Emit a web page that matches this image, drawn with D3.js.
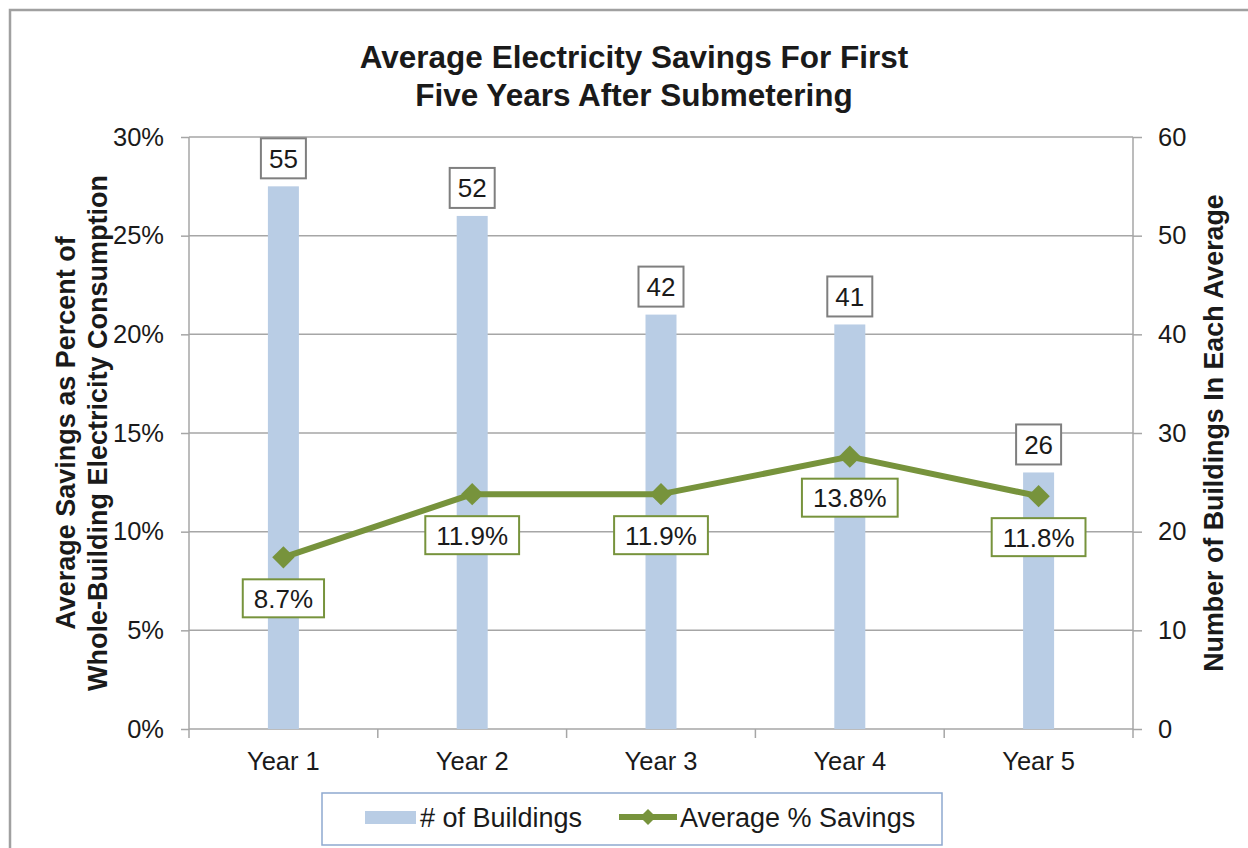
<!DOCTYPE html>
<html>
<head>
<meta charset="utf-8">
<script src="https://cdnjs.cloudflare.com/ajax/libs/d3/7.8.5/d3.min.js"></script>
<style>
  body { margin: 0; background: #fff; }
  text { font-family: "Liberation Sans", Arial, sans-serif; fill: #1a1a1a; }
</style>
</head>
<body>
<div id="chart"></div>
<script>
// chart values
let years = ['Year 1', 'Year 2', 'Year 3', 'Year 4', 'Year 5'];
let buildings = [55, 52, 42, 41, 26];
let savings = [8.7, 11.9, 11.9, 13.8, 11.8];
let leftTicks = [0, 5, 10, 15, 20, 25, 30];
let rightTicks = [0, 10, 20, 30, 40, 50, 60];

let svgWidth = 1248;
let svgHeight = 848;
let margin = { top: 137, right: 115, bottom: 119, left: 189 };
let width = svgWidth - margin.left - margin.right;
let height = svgHeight - margin.top - margin.bottom;

let barColor = '#b9cde5';
let lineColor = '#77933c';
let gridColor = '#a6a6a6';

let svg = d3.select('#chart')
    .append('svg')
    .attr('width', svgWidth)
    .attr('height', svgHeight);

// outer frame (runs off the right and bottom edge)
svg.append('rect')
    .attr('x', 10).attr('y', 10)
    .attr('width', svgWidth + 20).attr('height', svgHeight + 20)
    .attr('fill', 'none')
    .attr('stroke', '#a0a0a0')
    .attr('stroke-width', 2.5);

let chartgroup = svg.append('g')
    .attr('transform', `translate(${margin.left},${margin.top})`);

let x = d3.scaleBand().domain(years).range([0, width]);
let yLeft = d3.scaleLinear().domain([0, 30]).range([height, 0]);
let yRight = d3.scaleLinear().domain([0, 60]).range([height, 0]);

// gridlines
chartgroup.append('g')
    .selectAll('line')
    .data(leftTicks.slice(1))
    .enter()
    .append('line')
    .attr('x1', 0).attr('x2', width)
    .attr('y1', d => yLeft(d)).attr('y2', d => yLeft(d))
    .attr('stroke', gridColor)
    .attr('stroke-width', 1.5);

// left axis
let LAxis = d3.axisLeft(yLeft).tickValues(leftTicks).tickFormat(d => d + '%').tickSize(8).tickPadding(17);
let leftG = chartgroup.append('g').call(LAxis);

// right axis
let RAxis = d3.axisRight(yRight).tickValues(rightTicks).tickSize(9).tickPadding(16);
let rightG = chartgroup.append('g')
    .attr('transform', `translate(${width},0)`)
    .call(RAxis);

// bottom axis, ticks sit on the category boundaries
let BAxis = d3.axisBottom(x).tickSize(0).tickPadding(23);
let bottomG = chartgroup.append('g')
    .attr('transform', `translate(0,${height})`)
    .call(BAxis);
bottomG.selectAll('.bound')
    .data(d3.range(years.length + 1))
    .enter()
    .append('line')
    .attr('x1', i => i * x.step()).attr('x2', i => i * x.step())
    .attr('y1', 0).attr('y2', 9)
    .attr('stroke', gridColor)
    .attr('stroke-width', 1.5);

[leftG, rightG, bottomG].forEach(g => {
    g.select('.domain').attr('stroke', gridColor).attr('stroke-width', 1.5);
    g.selectAll('.tick line').attr('stroke', gridColor).attr('stroke-width', 1.5);
    g.selectAll('.tick text')
        .style('font-size', '25.5px')
        .style('font-family', '"Liberation Sans", Arial, sans-serif')
        .attr('fill', '#1a1a1a');
});
bottomG.select('.domain').attr('d', `M0,0H${width}`);
leftG.select('.domain').attr('d', `M0,0V${height}`);
rightG.select('.domain').attr('d', `M0,0V${height}`);

// bars
let barW = 31;
chartgroup.selectAll('.bar')
    .data(buildings)
    .enter()
    .append('rect')
    .attr('class', 'bar')
    .attr('x', (d, i) => x(years[i]) + x.bandwidth() / 2 - barW / 2)
    .attr('y', d => yRight(d))
    .attr('width', barW)
    .attr('height', d => height - yRight(d))
    .attr('fill', barColor);

// count labels in boxes above bars
let countLabels = chartgroup.selectAll('.cnt')
    .data(buildings)
    .enter()
    .append('g')
    .attr('transform', (d, i) => `translate(${x(years[i]) + x.bandwidth() / 2},${yRight(d) - 28})`);
countLabels.append('rect')
    .attr('x', -22.5).attr('y', -20)
    .attr('width', 45).attr('height', 40)
    .attr('fill', '#fff')
    .attr('stroke', '#7f7f7f')
    .attr('stroke-width', 2);
countLabels.append('text')
    .attr('text-anchor', 'middle')
    .attr('dy', '0.36em')
    .style('font-size', '26px')
    .text(d => d);

// savings line
let line = d3.line()
    .x((d, i) => x(years[i]) + x.bandwidth() / 2)
    .y(d => yLeft(d));
chartgroup.append('path')
    .datum(savings)
    .attr('d', line)
    .attr('fill', 'none')
    .attr('stroke', lineColor)
    .attr('stroke-width', 6)
    .attr('stroke-linejoin', 'round');

let diamond = d3.symbol().type(d3.symbolSquare).size(250);
chartgroup.selectAll('.pt')
    .data(savings)
    .enter()
    .append('path')
    .attr('d', diamond)
    .attr('transform', (d, i) => `translate(${x(years[i]) + x.bandwidth() / 2},${yLeft(d)}) rotate(45)`)
    .attr('fill', lineColor);

// percent labels in green boxes below points
let pctLabels = chartgroup.selectAll('.pct')
    .data(savings)
    .enter()
    .append('g')
    .attr('transform', (d, i) => `translate(${x(years[i]) + x.bandwidth() / 2},${yLeft(d) + 41})`);
pctLabels.append('text')
    .attr('text-anchor', 'middle')
    .attr('dy', '0.36em')
    .style('font-size', '26px')
    .text(d => d.toFixed(1) + '%');
pctLabels.each(function () {
    let g = d3.select(this);
    let bb = g.select('text').node().getBBox();
    g.insert('rect', 'text')
        .attr('x', -bb.width / 2 - 11).attr('y', -19)
        .attr('width', bb.width + 22).attr('height', 38)
        .attr('fill', '#fff')
        .attr('stroke', lineColor)
        .attr('stroke-width', 2);
});

// title
let title = svg.append('text')
    .attr('x', 634)
    .attr('text-anchor', 'middle')
    .style('font-size', '31.5px')
    .style('font-weight', 'bold');
title.append('tspan').attr('x', 634).attr('y', 68).text('Average Electricity Savings For First');
title.append('tspan').attr('x', 634).attr('y', 106).text('Five Years After Submetering');

// left axis title
let ltitle = svg.append('text')
    .attr('transform', `translate(0,${margin.top + height / 2}) rotate(-90)`)
    .attr('text-anchor', 'middle')
    .style('font-size', '27px')
    .style('font-weight', 'bold');
ltitle.append('tspan').attr('x', 0).attr('y', 75).text('Average Savings as Percent of');
ltitle.append('tspan').attr('x', 0).attr('y', 107).text('Whole-Building Electricity Consumption');

// right axis title
svg.append('text')
    .attr('transform', `translate(1223,${margin.top + height / 2}) rotate(-90)`)
    .attr('text-anchor', 'middle')
    .style('font-size', '26.8px')
    .style('font-weight', 'bold')
    .text('Number of Buildings In Each Average');

// legend
let legend = svg.append('g');
legend.append('rect')
    .attr('x', 322).attr('y', 793)
    .attr('width', 620).attr('height', 52)
    .attr('fill', '#fff')
    .attr('stroke', '#8ea9cf')
    .attr('stroke-width', 1.5);
legend.append('rect')
    .attr('x', 365).attr('y', 811)
    .attr('width', 51).attr('height', 13)
    .attr('fill', barColor);
legend.append('text')
    .attr('x', 420).attr('y', 827)
    .style('font-size', '27px')
    .text('# of Buildings');
legend.append('line')
    .attr('x1', 619).attr('x2', 677)
    .attr('y1', 817).attr('y2', 817)
    .attr('stroke', lineColor)
    .attr('stroke-width', 6);
legend.append('path')
    .attr('d', d3.symbol().type(d3.symbolSquare).size(130))
    .attr('transform', 'translate(648,817) rotate(45)')
    .attr('fill', lineColor);
legend.append('text')
    .attr('x', 680).attr('y', 827)
    .style('font-size', '27px')
    .text('Average % Savings');
</script>
</body>
</html>
